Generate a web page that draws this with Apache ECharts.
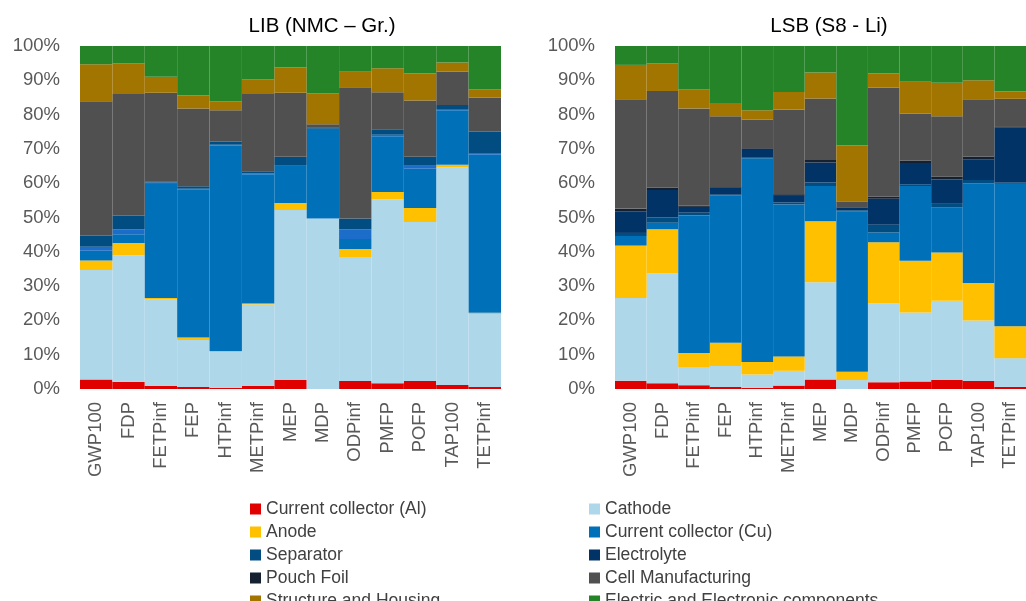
<!DOCTYPE html>
<html>
<head>
<meta charset="utf-8">
<script src="https://cdn.jsdelivr.net/npm/echarts@6/dist/echarts.min.js"></script>
<style>html,body{margin:0;padding:0;background:#fff}#c{width:1026px;height:601px}</style>
</head>
<body>
<div id="c"></div>
<script>
const categories = ['GWP100','FDP','FETPinf','FEP','HTPinf','METPinf','MEP','MDP','ODPinf','PMFP','POFP','TAP100','TETPinf'];
const panelTitles = ['LIB (NMC \u2013 Gr.)', 'LSB (S8 - Li)'];

// LIB (NMC – Gr.) shares, %
const libAl         = [2.8,2.1,0.9,0.6,0.4,0.9,2.6,0,2.3,1.7,2.3,1.2,0.6];
const libCathode    = [31.9,36.9,25.2,13.7,10.4,23.7,49.6,49.7,36.2,53.6,46.4,63.4,21.3];
const libAnode      = [2.8,3.6,0.4,0.7,0.3,0.3,2.0,0,2.3,2.1,4.1,0.8,0.3];
const libCu         = [2.8,2.5,33.3,43.2,59.8,37.7,10.8,26.1,2.9,16.3,11.4,15.9,46.1];
const libElectrolyte= [1.2,1.5,0.4,0.2,0.3,0.3,0.3,0.1,2.8,0.4,0.9,0.3,0.3];
const libSeparator  = [3.2,3.9,0.4,0.7,0.9,0.6,2.4,0.4,3.2,1.6,2.6,1.2,6.4];
const libPouch      = [0,0,0,0,0,0,0,0,0,0,0,0,0];
const libCell       = [39.2,35.5,25.8,22.7,9.2,22.5,18.7,0.9,38.3,10.8,16.4,9.8,10.0];
const libStructure  = [10.8,9.0,4.6,3.8,2.6,4.3,7.3,9.0,4.5,7.0,7.9,2.6,2.4];
const libElectric   = [5.3,5.0,9.0,14.4,16.1,9.7,6.3,13.8,7.5,6.5,8.0,4.8,12.6];

// LSB (S8 - Li) shares, %
const lsbAl         = [2.4,1.7,1.1,0.6,0.4,1.0,2.8,0,2.0,2.2,2.7,2.3,0.6];
const lsbCathode    = [24.1,32.0,5.1,6.1,3.8,4.3,28.3,2.6,22.9,20.1,23.0,17.7,8.4];
const lsbAnode      = [15.3,12.9,4.3,6.8,3.7,4.2,17.8,2.4,17.9,15.1,14.1,10.9,9.3];
const lsbCu         = [2.8,1.9,40.1,43.0,59.4,44.3,10.3,46.7,2.8,21.8,13.1,29.1,41.5];
const lsbSeparator  = [0.9,1.5,0.8,0.1,0.1,0.6,1.0,0.4,2.3,0.5,1.3,0.9,0.3];
const lsbElectrolyte= [6.2,8.0,1.7,2.1,2.6,1.9,5.8,0.7,7.6,6.2,6.9,6.1,16.2];
const lsbPouch      = [0.9,0.7,0.4,0.2,0.2,0.5,0.8,0.2,0.6,0.7,0.8,0.8,0.1];
const lsbCell       = [31.9,28.2,28.3,20.6,8.4,24.7,17.9,1.7,31.8,13.7,17.6,16.7,8.2];
const lsbStructure  = [10.0,8.1,5.6,3.9,2.7,5.1,7.6,16.3,4.1,9.3,9.8,5.5,2.2];
const lsbElectric   = [5.5,5.0,12.6,16.6,18.7,13.4,7.7,29.0,8.0,10.4,10.7,10.0,13.2];

const names = {
  al:'Current collector (Al)', cathode:'Cathode', anode:'Anode', cu:'Current collector (Cu)',
  sep:'Separator', elec:'Electrolyte', pouch:'Pouch Foil', cell:'Cell Manufacturing',
  struct:'Structure and Housing', ee:'Electric and Electronic components'
};
const colors = {
  al:'#e00000', cathode:'#afd7ea', anode:'#ffc000', cu:'#0071b9', sep:'#014c80',
  elec:'#013366', pouch:'#152130', cell:'#505050', struct:'#a27400', ee:'#268428'
};
const libElecColor = '#1b6dc9';
const legendOrder = ['al','cathode','anode','cu','sep','elec','pouch','cell','struct','ee'];

const FONT = '"Liberation Sans", Arial, sans-serif';

function bar(name, data, color, axis, stack) {
  return {
    name: name, type: 'bar', stack: stack, data: data,
    xAxisIndex: axis, yAxisIndex: axis,
    barWidth: '100%', barCategoryGap: '0%',
    itemStyle: { color: color }, emphasis: { disabled: true }
  };
}

const series = [
  bar(names.al, libAl, colors.al, 0, 'lib'),
  bar(names.cathode, libCathode, colors.cathode, 0, 'lib'),
  bar(names.anode, libAnode, colors.anode, 0, 'lib'),
  bar(names.cu, libCu, colors.cu, 0, 'lib'),
  bar(names.elec, libElectrolyte, libElecColor, 0, 'lib'),
  bar(names.sep, libSeparator, colors.sep, 0, 'lib'),
  bar(names.pouch, libPouch, colors.pouch, 0, 'lib'),
  bar(names.cell, libCell, colors.cell, 0, 'lib'),
  bar(names.struct, libStructure, colors.struct, 0, 'lib'),
  bar(names.ee, libElectric, colors.ee, 0, 'lib'),

  bar(names.al, lsbAl, colors.al, 1, 'lsb'),
  bar(names.cathode, lsbCathode, colors.cathode, 1, 'lsb'),
  bar(names.anode, lsbAnode, colors.anode, 1, 'lsb'),
  bar(names.cu, lsbCu, colors.cu, 1, 'lsb'),
  bar(names.sep, lsbSeparator, colors.sep, 1, 'lsb'),
  bar(names.elec, lsbElectrolyte, colors.elec, 1, 'lsb'),
  bar(names.pouch, lsbPouch, colors.pouch, 1, 'lsb'),
  bar(names.cell, lsbCell, colors.cell, 1, 'lsb'),
  bar(names.struct, lsbStructure, colors.struct, 1, 'lsb'),
  bar(names.ee, lsbElectric, colors.ee, 1, 'lsb')
];

function xAxis(i) {
  return {
    type: 'category', gridIndex: i, data: categories,
    axisLine: { show: false }, axisTick: { show: false },
    axisLabel: { rotate: 90, margin: 13, fontFamily: FONT, fontSize: 18.5, color: '#595959', interval: 0 }
  };
}
function yAxis(i) {
  return {
    type: 'value', gridIndex: i, min: 0, max: 100, interval: 10,
    splitLine: { show: false }, axisLine: { show: false }, axisTick: { show: false },
    axisLabel: { formatter: '{value}%', margin: 20, fontFamily: FONT, fontSize: 18.5, color: '#595959' }
  };
}

const chart = echarts.init(document.getElementById('c'), null, { renderer: 'canvas' });
chart.setOption({
  animation: false,
  backgroundColor: '#ffffff',
  title: [
    { text: panelTitles[0], left: 317, top: 11, textAlign: 'center',
      textStyle: { fontFamily: FONT, fontSize: 20.5, fontWeight: 'normal', color: '#000' } },
    { text: panelTitles[1], left: 824, top: 11, textAlign: 'center',
      textStyle: { fontFamily: FONT, fontSize: 20.5, fontWeight: 'normal', color: '#000' } }
  ],
  grid: [
    { left: 80, top: 46, width: 421, height: 343 },
    { left: 615, top: 46, width: 421, height: 343 }
  ],
  xAxis: [xAxis(0), xAxis(1)],
  yAxis: [yAxis(0), yAxis(1)],
  legend: {
    orient: 'horizontal', left: 250, top: 500, width: 680, padding: 0,
    icon: 'rect', itemWidth: 11, itemHeight: 11, itemGap: 5,
    selectedMode: false,
    data: legendOrder.map(k => ({ name: names[k], itemStyle: { color: colors[k] } })),
    textStyle: { fontFamily: FONT, fontSize: 17.5, color: '#404040', lineHeight: 16.5,
                 width: 318, overflow: 'truncate' }
  },
  series: series
});
</script>
</body>
</html>
